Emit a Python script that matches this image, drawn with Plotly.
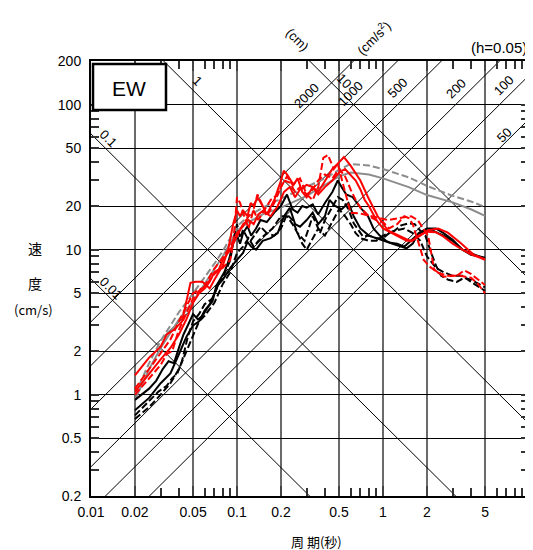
import numpy as np
import plotly.graph_objects as go

# ---------------- data ----------------
x_ticks = [0.01, 0.02, 0.05, 0.1, 0.2, 0.5, 1, 2, 5, 10]
x_ticktext = ["0.01", "0.02", "0.05", "0.1", "0.2", "0.5", "1", "2", "5", "10"]
y_ticks = [0.2, 0.5, 1, 2, 5, 10, 20, 50, 100, 200]
y_ticktext = ["0.2", "0.5", "1", "2", "5", "10", "20", "50", "100", "200"]

disp_levels = [0.01, 0.1, 1, 10]            # cm
acc_levels = [50, 100, 200, 500, 1000, 2000]  # cm/s2

# design spectra (gray)
gray_solid_T = [0.02, 0.025, 0.03, 0.035, 0.04, 0.05, 0.06, 0.07, 0.08, 0.1, 0.12, 0.15, 0.2, 0.3, 0.4, 0.5, 0.6, 0.8, 1.0, 1.5, 2.0, 3.0, 4.0, 5.0]
gray_solid_v = [0.92, 1.5, 2.1, 2.7, 3.3, 4.4, 5.8, 7.3, 9.0, 13.5, 15.5, 17.5, 19.5, 23.5, 28, 32, 34, 33, 31, 27, 23.8, 21.2, 19, 17.1]
gray_dash_T = [0.02, 0.025, 0.03, 0.035, 0.04, 0.05, 0.06, 0.07, 0.08, 0.1, 0.12, 0.15, 0.2, 0.3, 0.4, 0.5, 0.6, 0.8, 1.0, 1.5, 2.0, 3.0, 4.0, 5.0]
gray_dash_v = [1.0, 1.65, 2.35, 3.0, 3.7, 5.0, 6.4, 8.0, 9.8, 14.5, 17, 19.5, 22.5, 27, 31, 35.5, 39, 38, 36, 31.5, 27.5, 23.5, 21.5, 19.7]

# observed spectra (red / black, solid / dashed)
red_s1_T = [0.02, 0.025, 0.03, 0.033, 0.037, 0.042, 0.048, 0.052, 0.058, 0.065, 0.07, 0.075, 0.08, 0.087, 0.094, 0.1, 0.105, 0.11, 0.118, 0.124, 0.13, 0.138, 0.15, 0.16, 0.18, 0.2, 0.209, 0.22, 0.244, 0.26, 0.28, 0.3, 0.33, 0.36, 0.4, 0.45, 0.5, 0.54, 0.6, 0.7, 0.79, 0.92, 1.08, 1.33, 1.56, 1.8, 2.04, 2.39, 2.78, 3.4, 4.2, 5.0]
red_s1_v = [1.36, 1.8, 2.14, 2.6, 2.8, 3.2, 5.9, 6.0, 6.0, 5.4, 6.2, 7.0, 7.8, 10, 15, 18.6, 17, 18.6, 17, 21, 20, 23, 20, 17.5, 22, 30, 35, 33, 28, 31, 25, 23, 27, 25, 30, 36, 40, 43.5, 38, 30, 23, 17, 13.6, 12.3, 11.4, 12.5, 13.6, 14, 13.1, 11.1, 9.2, 8.6]

red_s2_T = [0.02, 0.025, 0.03, 0.035, 0.04, 0.045, 0.05, 0.055, 0.06, 0.065, 0.07, 0.075, 0.08, 0.09, 0.1, 0.11, 0.12, 0.13, 0.14, 0.15, 0.17, 0.19, 0.21, 0.23, 0.25, 0.27, 0.3, 0.33, 0.36, 0.4, 0.45, 0.5, 0.55, 0.6, 0.65, 0.7, 0.75, 0.8, 0.9, 1.0, 1.15, 1.3, 1.45, 1.6, 1.75, 2.0, 2.3, 2.6, 3.0, 3.5, 4.0, 4.5, 5.0]
red_s2_v = [1.05, 1.4, 1.75, 2.1, 2.6, 3.3, 4.3, 5.0, 5.4, 6.0, 7.0, 7.3, 8.5, 10, 12.5, 15, 16, 15, 17.5, 18.5, 17, 20, 25, 27, 23, 26, 28, 27, 24, 27, 30, 34, 36, 33, 30, 26, 22, 20, 16, 14, 13, 12.2, 11.5, 11.6, 12.5, 13.3, 13.2, 12.3, 11, 10, 9.3, 8.9, 8.5]

red_d1_T = [0.02, 0.025, 0.03, 0.035, 0.04, 0.045, 0.05, 0.055, 0.06, 0.07, 0.08, 0.09, 0.095, 0.1, 0.105, 0.11, 0.12, 0.13, 0.138, 0.15, 0.16, 0.18, 0.2, 0.22, 0.24, 0.27, 0.3, 0.33, 0.36, 0.39, 0.42, 0.46, 0.49, 0.55, 0.6, 0.71, 0.87, 1.08, 1.33, 1.56, 1.73, 1.9, 2.04, 2.24, 2.6, 3.0, 3.4, 4.0, 4.47, 5.0]
red_d1_v = [1.1, 1.5, 1.9, 2.4, 3.2, 4.0, 5.0, 5.3, 5.5, 6.8, 7.5, 8.5, 12, 23, 21, 18, 14, 19, 24, 20, 17, 21, 27, 32, 28, 31, 24, 22, 27, 43, 45, 36, 39, 25, 18, 17.7, 16.8, 16, 16.6, 17, 16, 13.7, 12.4, 7.3, 6.5, 6.6, 6.6, 6.4, 5.8, 5.0]

red_d2_T = [0.02, 0.025, 0.03, 0.033, 0.036, 0.04, 0.045, 0.05, 0.055, 0.06, 0.065, 0.07, 0.08, 0.09, 0.1, 0.11, 0.12, 0.13, 0.14, 0.15, 0.17, 0.19, 0.21, 0.23, 0.25, 0.27, 0.3, 0.33, 0.36, 0.4, 0.45, 0.5, 0.55, 0.6, 0.65, 0.7, 0.8, 0.9, 1.0, 1.1, 1.25, 1.4, 1.5, 1.6, 1.7, 1.8, 1.9, 2.1, 2.4, 2.8, 3.2, 3.6, 4.0, 4.5, 5.0]
red_d2_v = [1.0, 1.3, 1.6, 1.9, 2.0, 2.8, 3.6, 4.6, 5.2, 5.6, 6.5, 7.4, 8.8, 10.5, 13, 14.5, 17, 18.5, 16, 18, 22, 24, 30, 29, 25, 27, 24, 26, 30, 33, 31, 36, 32, 26, 22, 19.5, 17, 16, 15.5, 14, 15, 17, 16.5, 15, 12.4, 10, 8.5, 7.6, 6.9, 6.6, 6.6, 7.2, 6.8, 6.2, 5.7]

blk_s1_T = [0.02, 0.025, 0.028, 0.031, 0.034, 0.037, 0.04, 0.043, 0.046, 0.05, 0.054, 0.058, 0.063, 0.068, 0.072, 0.076, 0.082, 0.088, 0.094, 0.1, 0.105, 0.11, 0.118, 0.125, 0.135, 0.145, 0.16, 0.18, 0.2, 0.22, 0.24, 0.26, 0.28, 0.3, 0.33, 0.36, 0.4, 0.45, 0.49, 0.52, 0.56, 0.62, 0.7, 0.79, 0.86, 0.95, 1.05, 1.15, 1.3, 1.45, 1.6, 1.75, 2.0, 2.3, 2.6, 3.0, 3.5, 4.0, 4.5, 5.0]
blk_s1_v = [0.92, 1.1, 1.25, 1.5, 1.7, 1.65, 2.1, 2.6, 3.0, 3.6, 3.3, 3.5, 4.0, 4.4, 5.6, 6.2, 7.0, 8.5, 11, 12.5, 11, 13, 14.5, 12.5, 14, 16, 15.5, 18, 20, 24, 19, 18, 20, 19.5, 20.5, 17.5, 21, 25, 30, 27, 24, 23, 19.5, 17, 14, 12.5, 11.5, 11, 10.5, 10.2, 11, 13, 14, 14, 13, 11.7, 10, 9.2, 9.0, 8.8]

blk_s2_T = [0.02, 0.025, 0.03, 0.035, 0.04, 0.045, 0.05, 0.055, 0.06, 0.065, 0.07, 0.075, 0.08, 0.09, 0.1, 0.11, 0.118, 0.125, 0.135, 0.15, 0.17, 0.19, 0.21, 0.23, 0.25, 0.27, 0.3, 0.33, 0.36, 0.4, 0.43, 0.47, 0.52, 0.58, 0.63, 0.7, 0.8, 0.9, 1.0, 1.1, 1.25, 1.4, 1.55, 1.7, 1.9, 2.2, 2.6, 3.0, 3.5, 4.0, 4.5, 5.0]
blk_s2_v = [0.78, 0.95, 1.2, 1.4, 1.9, 2.5, 3.0, 3.2, 3.8, 4.2, 5.0, 5.8, 6.2, 7.5, 8.5, 9.5, 11.3, 10.5, 10, 11.5, 12, 13, 17, 19.4, 15, 14.4, 16, 18, 15, 17, 22, 20, 19, 21, 17, 14, 12.5, 12, 11.5, 11.2, 11, 10.5, 11.5, 12.5, 13.5, 13.5, 12.5, 11.5, 10, 9.4, 9.0, 8.7]

blk_d1_T = [0.02, 0.025, 0.029, 0.033, 0.036, 0.039, 0.042, 0.046, 0.05, 0.055, 0.06, 0.068, 0.075, 0.082, 0.09, 0.095, 0.1, 0.105, 0.11, 0.118, 0.124, 0.135, 0.145, 0.16, 0.175, 0.2, 0.22, 0.24, 0.26, 0.29, 0.31, 0.33, 0.35, 0.37, 0.4, 0.45, 0.49, 0.53, 0.58, 0.63, 0.68, 0.73, 0.8, 0.9, 1.0, 1.1, 1.2, 1.33, 1.5, 1.65, 1.8, 1.95, 2.1, 2.3, 2.5, 2.8, 3.2, 3.6, 4.0, 4.5, 5.0]
blk_d1_v = [0.72, 0.9, 1.05, 1.15, 1.3, 1.4, 1.7, 2.5, 3.2, 3.6, 4.2, 4.6, 5.8, 6.8, 8.5, 12, 15, 12, 13.7, 12, 11.5, 13, 14.4, 13, 14, 17, 17, 15, 13, 11.5, 14, 17, 15, 13, 16, 20, 23, 22, 19, 15.2, 13.5, 12.3, 12.5, 12, 12, 13, 13.5, 14.7, 15.2, 15, 13.5, 12.5, 10, 7.8, 6.6, 6.2, 6.0, 6.4, 6.2, 5.8, 5.5]

blk_d2_T = [0.02, 0.025, 0.03, 0.035, 0.04, 0.045, 0.05, 0.055, 0.06, 0.07, 0.08, 0.09, 0.1, 0.11, 0.12, 0.13, 0.14, 0.16, 0.18, 0.2, 0.22, 0.24, 0.26, 0.28, 0.3, 0.33, 0.36, 0.4, 0.44, 0.5, 0.55, 0.6, 0.65, 0.7, 0.8, 0.9, 1.0, 1.2, 1.4, 1.6, 1.8, 2.0, 2.3, 2.6, 3.0, 3.5, 4.0, 4.5, 5.0]
blk_d2_v = [0.68, 0.82, 1.0, 1.2, 1.5, 2.0, 2.6, 3.2, 3.5, 4.3, 5.8, 7.0, 9.5, 10.5, 12, 10.5, 11.5, 13, 12.5, 14, 17.5, 16, 13, 11, 10, 12, 14, 12.5, 15, 19, 17, 15, 13, 12, 11.5, 11.5, 12.5, 13.5, 14, 13, 11.5, 9.0, 7.5, 7.0, 6.6, 6.6, 6.0, 5.6, 5.2]

# ---------------- figure ----------------
fig = go.Figure()

# tripartite guide lines (straight in log-log; clipped by the axes)
T_end = [0.001, 100.0]
for d in disp_levels:
    fig.add_trace(go.Scatter(x=T_end, y=[2 * np.pi * d / t for t in T_end], mode="lines",
                             line=dict(color="black", width=1), hoverinfo="skip", showlegend=False))
for a in acc_levels:
    fig.add_trace(go.Scatter(x=T_end, y=[a * t / (2 * np.pi) for t in T_end], mode="lines",
                             line=dict(color="black", width=1), hoverinfo="skip", showlegend=False))

DASH = "7px,3px"
series = [
    (gray_solid_T, gray_solid_v, "#8c8c8c", "solid"),
    (gray_dash_T, gray_dash_v, "#8c8c8c", DASH),
    (blk_s1_T, blk_s1_v, "black", "solid"),
    (blk_s2_T, blk_s2_v, "black", "solid"),
    (blk_d1_T, blk_d1_v, "black", DASH),
    (blk_d2_T, blk_d2_v, "black", DASH),
    (red_s1_T, red_s1_v, "#ff0000", "solid"),
    (red_s2_T, red_s2_v, "#ff0000", "solid"),
    (red_d1_T, red_d1_v, "#ff0000", DASH),
    (red_d2_T, red_d2_v, "#ff0000", DASH),
]
for tx, vy, col, dash in series:
    fig.add_trace(go.Scatter(x=tx, y=vy, mode="lines", line=dict(color=col, width=2, dash=dash),
                             showlegend=False))

# ---------------- layout ----------------
OFF = 8  # page body margin
L, R, TOP, BOT = 91, 529, 61, 496   # plot area in screen pixels
W, H = 533 - OFF, 550 - OFF
pw, ph = R - L, BOT - TOP


def px(x):
    return (x - L) / pw


def py(y):
    return (BOT - y) / ph


def minor_vals(lo_exp, hi_exp):
    out = []
    for e in range(lo_exp, hi_exp + 1):
        for m in (3, 4, 6, 7, 8, 9):
            out.append(m * 10 ** e)
    return out


NUMFONT = "Liberation Sans, Arial, sans-serif"
CJK = "Noto Sans CJK JP, sans-serif"

fig.update_layout(
    width=W, height=H,
    margin=dict(l=L - OFF, r=W - (R - OFF), t=TOP - OFF, b=H - (BOT - OFF), autoexpand=False),
    paper_bgcolor="white", plot_bgcolor="white",
    showlegend=False,
    font=dict(family=NUMFONT, color="black", size=14),
)
fig.update_xaxes(
    type="log", range=[-2, 1], automargin=False,
    tickmode="array", tickvals=x_ticks, ticktext=x_ticktext,
    showgrid=True, gridcolor="#6a6a6a", gridwidth=2,
    showline=True, linecolor="black", linewidth=2, mirror="ticks",
    ticks="inside", ticklen=10, tickwidth=2, tickcolor="#444",
    ticklabelstandoff=2,
    minor=dict(tickmode="array", tickvals=minor_vals(-2, 0), ticks="inside",
               ticklen=8, tickwidth=1.5, tickcolor="#333", showgrid=False),
    tickfont=dict(size=14, family=NUMFONT, color="black"),
    zeroline=False,
)
fig.update_yaxes(
    type="log", range=[np.log10(0.2), np.log10(200)], automargin=False,
    tickmode="array", tickvals=y_ticks, ticktext=y_ticktext,
    showgrid=True, gridcolor="black", gridwidth=1,
    showline=True, linecolor="black", linewidth=2, mirror="ticks",
    ticks="inside", ticklen=8, tickwidth=1.5, tickcolor="#333",
    ticklabelstandoff=5,
    minor=dict(tickmode="array", tickvals=[v for v in minor_vals(-1, 1) if 0.2 < v < 200], ticks="inside",
               ticklen=8, tickwidth=1.5, tickcolor="#333", showgrid=False),
    tickfont=dict(size=14, family=NUMFONT, color="black"),
    zeroline=False,
)

ann = []
# displacement labels (down-right lines)
for d, t_at, lbl, shift in [(0.01, 0.0137, "0.01", 10), (0.1, 0.0131, "0.1", 12), (1, 0.0534, "1", 14), (10, 0.537, "10", 14)]:
    ann.append(dict(x=np.log10(t_at), y=np.log10(2 * np.pi * d / t_at), xref="x", yref="y", text=lbl,
                    showarrow=False, textangle=45, yshift=shift, xanchor="center", yanchor="middle",
                    font=dict(size=13, family=NUMFONT)))
# acceleration labels (up-right lines)
for a, t_at, shift in [(2000, 0.30, 12), (1000, 0.6, 14), (500, 1.27, 16), (200, 3.16, 16), (100, 6.7, 15), (50, 6.7, 9)]:
    ann.append(dict(x=np.log10(t_at), y=np.log10(a * t_at / (2 * np.pi)), xref="x", yref="y", text=str(a),
                    showarrow=False, textangle=-45, yshift=shift, xanchor="center", yanchor="middle",
                    font=dict(size=13, family=NUMFONT)))


def lab(xs, ys, text, size, family, angle=0, xanchor="center"):
    return dict(x=px(xs), y=py(ys), xref="paper", yref="paper", text=text, showarrow=False,
                textangle=angle, xanchor=xanchor, yanchor="middle", font=dict(size=size, family=family))


ann += [
    lab(297, 40, "(cm)", 13, NUMFONT, 45),
    lab(373, 38, "(cm/s<sup>2</sup>)", 13, NUMFONT, -45),
    lab(R, 47, "(h=0.05)", 15, NUMFONT, 0, "right"),
    lab(129, 88, "EW", 21, NUMFONT),
    lab(35, 248, "速", 14, CJK),
    lab(35, 283, "度", 14, CJK),
    lab(33, 309, "(cm/s)", 13, CJK),
    lab(316, 541, "周 期(秒)", 13, CJK),
]
fig.update_layout(annotations=ann)

fig.add_shape(type="rect", xref="paper", yref="paper", x0=px(93), x1=px(166), y0=py(110), y1=py(64),
              line=dict(color="black", width=2.5), fillcolor="white", layer="above")

fig.write_html("out.html")
